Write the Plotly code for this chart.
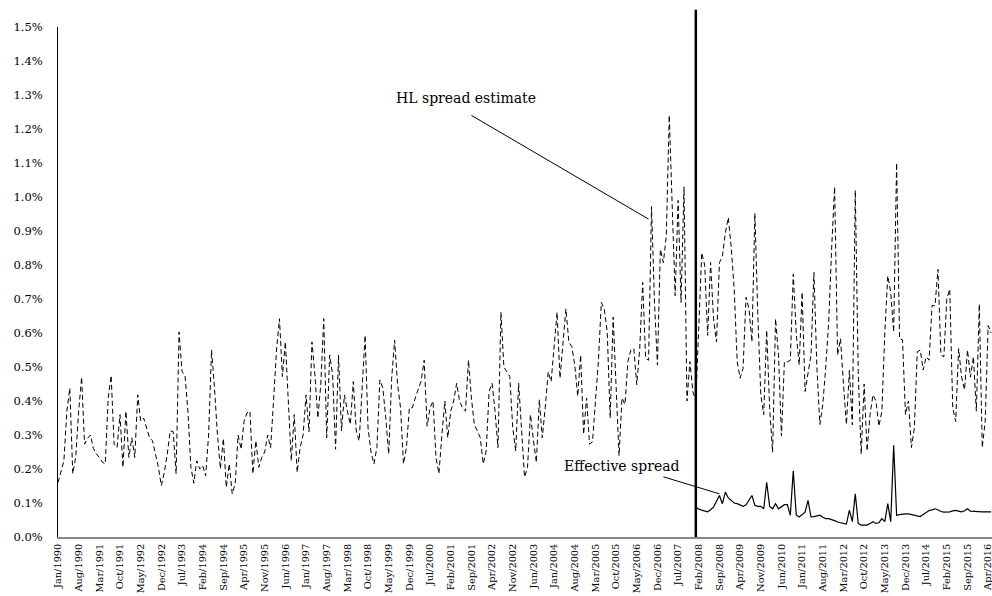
import plotly.graph_objects as go

month_names = ["Jan", "Feb", "Mar", "Apr", "May", "Jun", "Jul", "Aug", "Sep", "Oct", "Nov", "Dec"]
months = [f"{m}/{y}" for y in range(1990, 2017) for m in month_names][:317]

hl_spread = [
    0.16, 0.195, 0.224, 0.37, 0.438, 0.186, 0.234, 0.37, 0.47, 0.273,
    0.29, 0.30, 0.26, 0.244, 0.234, 0.22, 0.215, 0.409, 0.475, 0.273,
    0.263, 0.36, 0.205, 0.37, 0.234, 0.292, 0.234, 0.418, 0.341, 0.35,
    0.32, 0.292, 0.283, 0.24, 0.205, 0.151, 0.19, 0.244, 0.312, 0.31,
    0.186, 0.603, 0.486, 0.477, 0.37, 0.205, 0.158, 0.224, 0.20, 0.21,
    0.18, 0.30, 0.55, 0.438, 0.30, 0.20, 0.29, 0.146, 0.215, 0.127,
    0.156, 0.30, 0.258, 0.34, 0.365, 0.37, 0.186, 0.283, 0.205, 0.234,
    0.25, 0.30, 0.263, 0.40, 0.55, 0.642, 0.472, 0.574, 0.38, 0.224,
    0.36, 0.19, 0.263, 0.30, 0.418, 0.31, 0.574, 0.477, 0.35, 0.45,
    0.642, 0.292, 0.535, 0.477, 0.258, 0.535, 0.312, 0.418, 0.37, 0.331,
    0.457, 0.312, 0.283, 0.45, 0.593, 0.321, 0.25, 0.215, 0.263, 0.462,
    0.438, 0.35, 0.244, 0.467, 0.579, 0.45, 0.38, 0.215, 0.263, 0.38,
    0.38, 0.409, 0.438, 0.46, 0.52, 0.326, 0.38, 0.40, 0.234, 0.186,
    0.30, 0.40, 0.292, 0.37, 0.40, 0.452, 0.40, 0.38, 0.37, 0.52,
    0.409, 0.33, 0.312, 0.292, 0.215, 0.253, 0.428, 0.452, 0.37, 0.263,
    0.661, 0.50, 0.486, 0.472, 0.321, 0.253, 0.452, 0.302, 0.176, 0.205,
    0.36, 0.285, 0.219, 0.404, 0.292, 0.38, 0.486, 0.457, 0.55, 0.661,
    0.467, 0.58, 0.671, 0.574, 0.56, 0.506, 0.414, 0.535, 0.302, 0.409,
    0.273, 0.28, 0.40, 0.516, 0.69, 0.67, 0.603, 0.35, 0.647, 0.418,
    0.239, 0.409, 0.39, 0.516, 0.55, 0.554, 0.448, 0.554, 0.749, 0.525,
    0.52, 0.972, 0.69, 0.506, 0.846, 0.807, 0.885, 1.24, 0.982, 0.71,
    0.99, 0.69, 1.03, 0.40, 0.516, 0.428, 0.40, 0.60, 0.836, 0.80,
    0.593, 0.807, 0.642, 0.574, 0.807, 0.826, 0.894, 0.94, 0.85, 0.729,
    0.516, 0.467, 0.496, 0.705, 0.671, 0.574, 0.952, 0.652, 0.418, 0.36,
    0.608, 0.38, 0.249, 0.642, 0.535, 0.297, 0.516, 0.515, 0.52, 0.773,
    0.60, 0.506, 0.72, 0.428, 0.48, 0.535, 0.778, 0.50, 0.331, 0.39,
    0.50, 0.632, 0.85, 1.03, 0.535, 0.583, 0.45, 0.331, 0.49, 0.33,
    1.02, 0.486, 0.244, 0.45, 0.253, 0.36, 0.418, 0.40, 0.326, 0.37,
    0.60, 0.768, 0.72, 0.603, 1.10, 0.583, 0.58, 0.36, 0.40, 0.263,
    0.32, 0.545, 0.55, 0.491, 0.53, 0.52, 0.681, 0.68, 0.787, 0.535,
    0.53, 0.70, 0.729, 0.38, 0.34, 0.554, 0.47, 0.433, 0.55, 0.47,
    0.53, 0.37, 0.685, 0.263, 0.341, 0.622, 0.60,
]

effective_start = "Jan/2008"
effective_spread = [
    0.088, 0.082, 0.079, 0.076, 0.074, 0.080, 0.088, 0.105, 0.122, 0.098,
    0.132, 0.115, 0.108, 0.100, 0.098, 0.093, 0.090, 0.095, 0.108, 0.122,
    0.093, 0.090, 0.090, 0.083, 0.161, 0.090, 0.083, 0.098, 0.083, 0.090,
    0.095, 0.095, 0.064, 0.195, 0.065, 0.059, 0.065, 0.073, 0.108, 0.059,
    0.060, 0.062, 0.064, 0.058, 0.054, 0.054, 0.052, 0.048, 0.044, 0.042,
    0.040, 0.038, 0.079, 0.045, 0.127, 0.040, 0.035, 0.035, 0.035, 0.040,
    0.045, 0.040, 0.042, 0.054, 0.045, 0.098, 0.045, 0.270, 0.064, 0.066,
    0.068, 0.068, 0.068, 0.066, 0.064, 0.060, 0.060, 0.066, 0.072, 0.078,
    0.080, 0.083, 0.080, 0.075, 0.073, 0.073, 0.074, 0.077, 0.078, 0.076,
    0.074, 0.077, 0.083, 0.076, 0.075, 0.076, 0.074, 0.074, 0.074, 0.074,
    0.074,
]

tick_labels = months[::7]
y_ticks = [i / 10 for i in range(16)]

FONT = "DejaVu Serif"
start_idx = months.index(effective_start)

fig = go.Figure()
fig.add_trace(go.Scatter(
    x=months, y=hl_spread, mode="lines",
    line=dict(color="black", width=1, dash="5px,3px"),
    showlegend=False, hoverinfo="skip",
))
fig.add_trace(go.Scatter(
    x=months[start_idx:start_idx + len(effective_spread)], y=effective_spread, mode="lines",
    line=dict(color="black", width=1.2),
    showlegend=False, hoverinfo="skip",
))

# vertical break line at start of effective spread
fig.add_shape(type="line", xref="x", yref="paper",
              x0=effective_start, x1=effective_start, y0=0, y1=1.034,
              line=dict(color="black", width=2.5))

# annotation leader lines
fig.add_shape(type="line", xref="x", yref="y",
              x0=months[140], y0=1.24, x1=months[200], y1=0.935,
              line=dict(color="black", width=1))
fig.add_shape(type="line", xref="x", yref="y",
              x0=months[205], y0=0.177, x1=months[224], y1=0.127,
              line=dict(color="black", width=1))

fig.add_annotation(x=months[138], y=1.29, xref="x", yref="y", text="HL spread estimate",
                   showarrow=False, font=dict(family=FONT, size=14, color="black"))
fig.add_annotation(x=months[191], y=0.208, xref="x", yref="y", text="Effective spread",
                   showarrow=False, font=dict(family=FONT, size=14, color="black"))

fig.update_layout(
    width=992, height=596,
    margin=dict(l=58, r=0, t=27, b=59),
    paper_bgcolor="white", plot_bgcolor="white",
    font=dict(family=FONT, size=12, color="black"),
    xaxis=dict(
        type="category", range=[0, 316.3],
        tickmode="array", tickvals=tick_labels, ticktext=tick_labels,
        tickangle=-90, ticks="", showgrid=False, zeroline=False,
        showline=True, linecolor="#888888", linewidth=1.5,
        tickfont=dict(family=FONT, size=9.8), automargin=False,
        ticklabelstandoff=1,
    ),
    yaxis=dict(
        range=[0, 1.5], tickmode="array", tickvals=y_ticks,
        ticktext=[f"{v:.1f}%" for v in y_ticks],
        ticks="", showgrid=False, zeroline=False,
        showline=True, linecolor="black", linewidth=1,
        tickfont=dict(family=FONT, size=11.5), automargin=False,
        ticklabelstandoff=12,
    ),
)

fig.write_html("out.html")
